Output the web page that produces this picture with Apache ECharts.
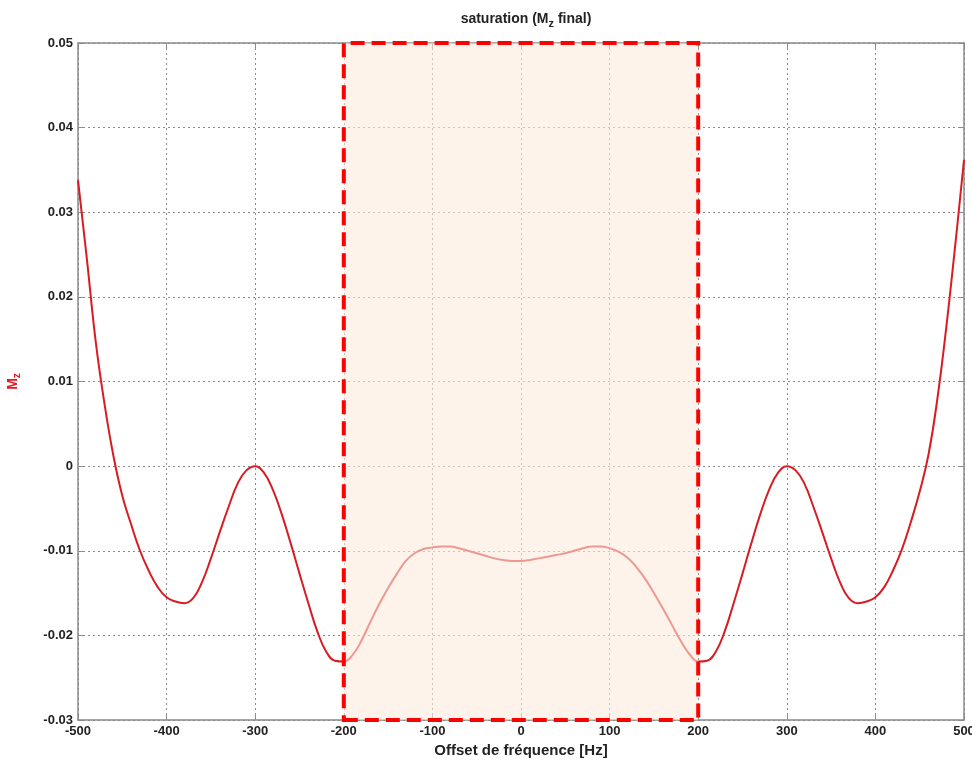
<!DOCTYPE html>
<html>
<head>
<meta charset="utf-8">
<script src="https://cdn.jsdelivr.net/npm/echarts@6/dist/echarts.min.js"></script>
<style>html,body{margin:0;padding:0;background:#fff;}#c{width:972px;height:762px;}</style>
</head>
<body>
<div id="c"></div>
<script>
var freq = [-500,-490,-480,-470,-460,-450,-440,-430,-420,-410,-400,-390,-380,-370,-360,-350,-340,-330,-320,-310,-300,-290,-280,-270,-260,-250,-240,-230,-220,-210,-200,-190,-180,-170,-160,-150,-140,-130,-120,-110,-100,-90,-80,-70,-60,-50,-40,-30,-20,-10,0,10,20,30,40,50,60,70,80,90,100,110,120,130,140,150,160,170,180,190,200,210,220,230,240,250,260,270,280,290,300,310,320,330,340,350,360,370,380,390,400,410,420,430,440,450,460,470,480,490,500];
var mz = [0.0338,0.0245,0.0147,0.0073,0.0012,-0.0035,-0.0069,-0.0100,-0.0124,-0.0143,-0.0155,-0.0160,-0.0162,-0.0156,-0.0137,-0.0109,-0.0078,-0.0048,-0.0021,-0.0005,0.0000,-0.0008,-0.0028,-0.0057,-0.0091,-0.0127,-0.0162,-0.0195,-0.0219,-0.0230,-0.0231,-0.0223,-0.0206,-0.0184,-0.0163,-0.0144,-0.0127,-0.0112,-0.0103,-0.0098,-0.0096,-0.0095,-0.0095,-0.0097,-0.0100,-0.0103,-0.0106,-0.0109,-0.0111,-0.0112,-0.0112,-0.0111,-0.0109,-0.0107,-0.0105,-0.0103,-0.0100,-0.0097,-0.0095,-0.0095,-0.0097,-0.0101,-0.0108,-0.0119,-0.0133,-0.0150,-0.0168,-0.0187,-0.0206,-0.0222,-0.0231,-0.0230,-0.0219,-0.0195,-0.0162,-0.0127,-0.0091,-0.0057,-0.0028,-0.0008,0.0000,-0.0005,-0.0021,-0.0048,-0.0078,-0.0109,-0.0137,-0.0156,-0.0162,-0.0160,-0.0155,-0.0143,-0.0123,-0.0098,-0.0066,-0.0030,0.0014,0.0080,0.0164,0.0260,0.0362];
var xTicks = [-500,-400,-300,-200,-100,0,100,200,300,400,500];
var yTicks = [-0.03,-0.02,-0.01,0,0.01,0.02,0.03,0.04,0.05];
var band = [-200, 200];

var data = freq.map(function(f,i){return [f, mz[i]];});
var font = 'Liberation Sans, Arial, sans-serif';
var axisGray = '#8a8a8a';
var gridLine = {show:true, lineStyle:{color:'#8c8c8c', type:[2,3], width:1}};

var chart = echarts.init(document.getElementById('c'), null, {renderer:'canvas'});
chart.setOption({
  backgroundColor:'#fff',
  animation:false,
  title:{
    text:'{a|saturation (M}{s|z}{a| final)}',
    left:521, top:4, textAlign:'center',
    textStyle:{rich:{
      a:{fontFamily:font, fontWeight:'bold', fontSize:14, color:'#222'},
      s:{fontFamily:font, fontWeight:'bold', fontSize:11, color:'#222', verticalAlign:'bottom', padding:[9,0,0,0]}
    }}
  },
  grid:{left:78, right:8, top:43, bottom:42, outerBoundsMode:'none', containLabel:false},
  xAxis:[{
    type:'value', min:-500, max:500, interval:100,
    name:'Offset de fréquence [Hz]', nameLocation:'middle', nameGap:23,
    nameTextStyle:{fontFamily:font, fontWeight:'bold', fontSize:15, color:'#222'},
    axisLine:{show:true, onZero:false, lineStyle:{color:axisGray, width:1.5}},
    axisTick:{show:true, inside:true, length:5, lineStyle:{color:axisGray}},
    axisLabel:{fontFamily:font, fontWeight:'bold', fontSize:13, color:'#222', margin:5,
      formatter:function(v){return xTicks.indexOf(v)>=0 ? String(v) : '';}},
    splitLine:gridLine
  },{
    type:'value', min:-500, max:500, interval:100, position:'top',
    axisLine:{show:true, onZero:false, lineStyle:{color:axisGray, width:1.5}},
    axisTick:{show:true, inside:true, length:5, lineStyle:{color:axisGray}},
    axisLabel:{show:false}, splitLine:{show:false}
  }],
  yAxis:[{
    type:'value', min:-0.03, max:0.05, interval:0.01,
    name:'{a|M}{s|z}', nameLocation:'middle', nameGap:56, nameRotate:90,
    nameTextStyle:{rich:{
      a:{fontFamily:font, fontWeight:'bold', fontSize:14, color:'#e8141e'},
      s:{fontFamily:font, fontWeight:'bold', fontSize:10, color:'#e8141e', verticalAlign:'bottom', padding:[8,0,0,0]}
    }},
    axisLine:{show:true, onZero:false, lineStyle:{color:axisGray, width:1.5}},
    axisTick:{show:true, inside:true, length:5, lineStyle:{color:axisGray}},
    axisLabel:{fontFamily:font, fontWeight:'bold', fontSize:13, color:'#222', margin:5,
      formatter:function(v){var r=Math.round(v*100)/100; return r===0?'0':r.toFixed(2);}},
    splitLine:gridLine
  },{
    type:'value', min:-0.03, max:0.05, interval:0.01, position:'right',
    axisLine:{show:true, onZero:false, lineStyle:{color:axisGray, width:1.5}},
    axisTick:{show:true, inside:true, length:5, lineStyle:{color:axisGray}},
    axisLabel:{show:false}, splitLine:{show:false}
  }],
  series:[{
    type:'line', data:data, smooth:0.45, symbol:'none', z:2,
    lineStyle:{color:'#d81c24', width:2}
  },{
    type:'line', data:[], z:5, silent:true,
    markArea:{
      silent:true, z:10,
      itemStyle:{color:'rgba(252,235,220,0.6)', borderColor:'#ff0000', borderWidth:4, borderType:[14,7]},
      data:[[{xAxis:band[0], yAxis:-0.03},{xAxis:band[1], yAxis:0.05}]]
    }
  }]
});
</script>
</body>
</html>
